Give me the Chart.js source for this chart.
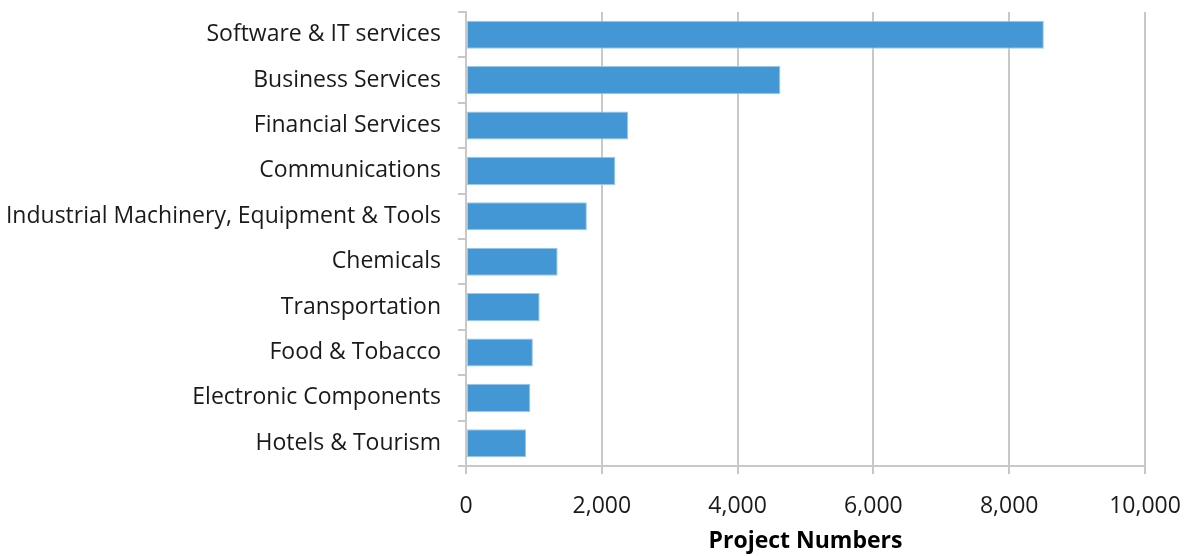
<!DOCTYPE html>
<html>
<head>
<meta charset="utf-8">
<script src="https://cdn.jsdelivr.net/npm/chart.js@4/dist/chart.umd.min.js"></script>
<style>
  html, body { margin: 0; padding: 0; background: #fff; }
  #wrap { width: 1189px; height: 556px; position: relative; }
</style>
</head>
<body>
<div id="wrap"><canvas id="chart"></canvas></div>
<script>
var sectors = [
	'Software & IT services',
	'Business Services',
	'Financial Services',
	'Communications',
	'Industrial Machinery, Equipment & Tools',
	'Chemicals',
	'Transportation',
	'Food & Tobacco',
	'Electronic Components',
	'Hotels & Tourism'
];
var projects = [8510, 4630, 2390, 2200, 1780, 1350, 1085, 985, 948, 884];
var xTicks = [0, 2000, 4000, 6000, 8000, 10000];

var fontFamily = '"Open Sans", "Noto Sans", sans-serif';
var gridGrey = '#c8c8c8';

// the label overhang is handled by layout padding instead
function noScalePadding(scale) {
	scale.paddingTop = 0;
	scale.paddingBottom = 0;
	scale.paddingLeft = 0;
	scale.paddingRight = 0;
}

new Chart(document.getElementById('chart'), {
	type: 'bar',
	data: {
		labels: sectors,
		datasets: [{
			data: projects,
			backgroundColor: '#4397d4',
			borderColor: '#9cc8ea',
			borderWidth: 1,
			borderSkipped: false,
			categoryPercentage: 1,
			barPercentage: 0.62
		}]
	},
	options: {
		indexAxis: 'y',
		responsive: true,
		maintainAspectRatio: false,
		animation: false,
		layout: { padding: { top: 12, right: 44, bottom: 0, left: 0 } },
		plugins: {
			legend: { display: false },
			tooltip: { enabled: false }
		},
		scales: {
			x: {
				min: 0,
				max: 10000,
				afterBuildTicks: function(axis) {
					axis.ticks = xTicks.map(function(v) { return { value: v }; });
				},
				afterFit: function(scale) {
					noScalePadding(scale);
					scale.height = 90;
				},
				border: { color: gridGrey, width: 2 },
				grid: {
					color: gridGrey,
					lineWidth: 2,
					tickLength: 8
				},
				ticks: {
					color: '#1a1a1a',
					padding: 19,
					font: { family: fontFamily, size: 23 },
					callback: function(v) { return v.toLocaleString('en-US'); }
				},
				title: {
					display: true,
					text: 'Project Numbers',
					color: '#000',
					padding: { top: 0, bottom: 1 },
					font: { family: fontFamily, size: 23, weight: 'bold' }
				}
			},
			y: {
				offset: true,
				afterFit: function(scale) {
					noScalePadding(scale);
					scale.width = 466;
				},
				border: { color: gridGrey, width: 2 },
				grid: {
					offset: true,
					drawOnChartArea: false,
					color: gridGrey,
					lineWidth: 2,
					tickLength: 8
				},
				ticks: {
					color: '#1a1a1a',
					padding: 17,
					font: { family: fontFamily, size: 23 }
				}
			}
		}
	}
});
</script>
</body>
</html>
